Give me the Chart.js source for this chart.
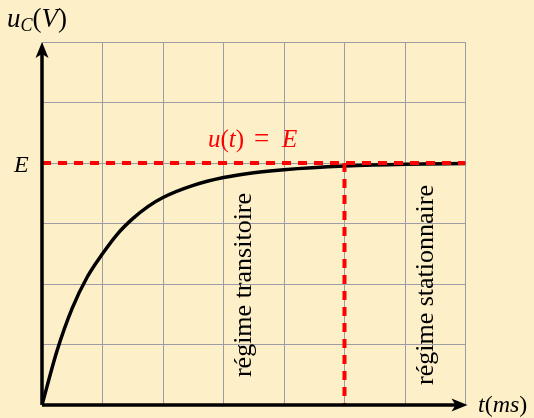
<!DOCTYPE html>
<html>
<head>
<meta charset="utf-8">
<script src="https://cdn.jsdelivr.net/npm/chart.js@4"></script>
<style>
  body { margin: 0; background: #fdefc8; }
  #wrap { width: 534px; height: 418px; }
</style>
</head>
<body>
<div id="wrap"><canvas id="rc" width="534" height="418"></canvas></div>
<script>
// values (t and u in grid units, E = 4)
const tValues = [0, 0.25, 0.5, 0.75, 1, 1.25, 1.5, 1.75, 2, 2.5, 3, 3.5, 4, 5, 6, 7];
const uValues = [0, 0.9, 1.6, 2.12, 2.5, 2.83, 3.08, 3.28, 3.43, 3.63, 3.76, 3.84, 3.89, 3.95, 3.98, 3.99];
const E = 4;
const tSwitch = 5;
const xMax = 7, yMax = 6;

const pts = tValues.map((t, i) => ({ x: t, y: uValues[i] }));

const bg = '#fdefc8';
const serif = '"Liberation Serif", "DejaVu Serif", serif';

// draw a run of [text, italic, size, dy] pieces starting at x
function mathText(c, x, y, parts) {
  for (const [txt, it, size, dy] of parts) {
    c.font = (it ? 'italic ' : '') + size + 'px ' + serif;
    c.fillText(txt, x, y + (dy || 0));
    x += c.measureText(txt).width;
  }
}

const overlay = {
  id: 'overlay',
  beforeDraw(chart) {
    const c = chart.ctx;
    c.save();
    c.fillStyle = bg;
    c.fillRect(0, 0, chart.width, chart.height);
    c.restore();
  },
  afterDatasetsDraw(chart) {
    const c = chart.ctx;
    const xs = chart.scales.x, ys = chart.scales.y;
    const x0 = xs.getPixelForValue(0), y0 = ys.getPixelForValue(0);
    const xEnd = xs.getPixelForValue(xMax), yTop = ys.getPixelForValue(yMax);
    c.save();
    // axes
    c.strokeStyle = '#000';
    c.fillStyle = '#000';
    c.lineWidth = 3.5;
    c.beginPath();
    c.moveTo(x0, y0); c.lineTo(xEnd - 8, y0);
    c.moveTo(x0, y0); c.lineTo(x0, yTop + 8);
    c.stroke();
    // arrowheads
    c.beginPath();
    c.moveTo(xEnd + 2, y0);
    c.lineTo(xEnd - 14, y0 - 6.5);
    c.lineTo(xEnd - 10, y0);
    c.lineTo(xEnd - 14, y0 + 6.5);
    c.closePath();
    c.fill();
    c.beginPath();
    c.moveTo(x0, yTop);
    c.lineTo(x0 - 6.5, yTop + 16);
    c.lineTo(x0, yTop + 12);
    c.lineTo(x0 + 6.5, yTop + 16);
    c.closePath();
    c.fill();

    // labels
    c.textBaseline = 'alphabetic';
    c.textAlign = 'left';
    mathText(c, 7, 27, [['u', true, 27], ['C', true, 18, 4], ['(', false, 27], ['V', true, 27], [')', false, 27]]);

    const yE = ys.getPixelForValue(E);
    mathText(c, 14, yE + 9, [['E', true, 24]]);
    mathText(c, 478, y0 + 7, [['t', true, 24], ['(', false, 24], ['ms', true, 24], [')', false, 24]]);

    c.fillStyle = '#ff0000';
    mathText(c, 208, yE - 16, [['u', true, 25], ['(', false, 25], ['t', true, 25], [')', false, 25]]);
    mathText(c, 254, yE - 16, [['=', false, 27]]);
    mathText(c, 282, yE - 16, [['E', true, 25]]);

    // rotated region labels
    c.fillStyle = '#000';
    c.font = '26px ' + serif;
    c.textAlign = 'center';
    c.save();
    c.translate(xs.getPixelForValue(3.45), 285);
    c.rotate(-Math.PI / 2);
    c.fillText('régime transitoire', 0, 0);
    c.restore();
    c.save();
    c.translate(xs.getPixelForValue(6.46), 285);
    c.rotate(-Math.PI / 2);
    c.fillText('régime stationnaire', 0, 0);
    c.restore();
    c.restore();
  }
};

new Chart(document.getElementById('rc'), {
  type: 'scatter',
  data: {
    datasets: [
      {
        data: pts,
        showLine: true,
        borderColor: '#000',
        borderWidth: 3.5,
        pointRadius: 0,
        cubicInterpolationMode: 'monotone',
        order: 2
      },
      {
        data: [{ x: 0, y: E }, { x: xMax, y: E }],
        showLine: true,
        borderColor: '#ff0000',
        borderWidth: 4,
        borderDash: [9, 7],
        pointRadius: 0,
        order: 1
      },
      {
        data: [{ x: tSwitch, y: E }, { x: tSwitch, y: 0 }],
        showLine: true,
        borderColor: '#ff0000',
        borderWidth: 4,
        borderDash: [9, 7],
        pointRadius: 0,
        order: 1
      }
    ]
  },
  options: {
    responsive: false,
    animation: false,
    layout: { padding: { left: 42, right: 68.5, top: 42, bottom: 13 } },
    plugins: { legend: { display: false }, tooltip: { enabled: false } },
    scales: {
      x: {
        type: 'linear', min: 0, max: xMax,
        ticks: { display: false, stepSize: 1 },
        grid: { color: '#9d9ca4', lineWidth: 1, drawTicks: false },
        border: { display: false }
      },
      y: {
        type: 'linear', min: 0, max: yMax,
        ticks: { display: false, stepSize: 1 },
        grid: { color: '#9d9ca4', lineWidth: 1, drawTicks: false },
        border: { display: false }
      }
    }
  },
  plugins: [overlay]
});
</script>
</body>
</html>
